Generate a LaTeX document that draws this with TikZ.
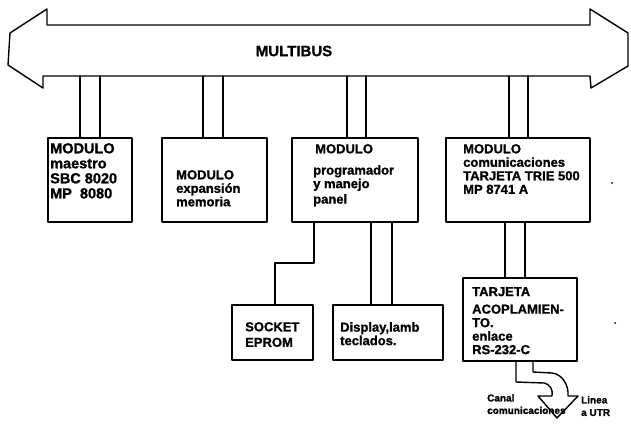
\documentclass[tikz,border=0pt]{standalone}
\usepackage{fontspec}
\setmainfont{Liberation Sans}
\newfontfamily\heavy{Liberation Sans}[UprightFont=* Bold, FakeBold=1.2]
\begin{document}
\begin{tikzpicture}[x=1pt,y=-1pt,
  ln/.style={line width=1.4pt,line join=round,line cap=round},
  box/.style={ln,draw},
  txt/.style={inner sep=0pt,anchor=north west,align=left,font=\heavy\fontsize{13}{13.5}\selectfont},
  big/.style={txt,font=\heavy\fontsize{14.5}{15}\selectfont},
  small/.style={inner sep=0pt,anchor=north west,align=left,font=\heavy\fontsize{10}{12.5}\selectfont}]
\useasboundingbox (0,0) rectangle (631,431);
% bus
\draw[ln] (47,9) -- (10,33) -- (8,65) -- (43,88) -- (43,76) -- (590,76) -- (591,88)
  -- (628,66) -- (628,33) -- (590,9) -- (590,25) -- (47,25) -- cycle;
\node[inner sep=0pt,font=\heavy\fontsize{15}{16}\selectfont] (bus) at (294,51) {MULTIBUS};
% boxes
\draw[box] (48,138) rectangle (132,222);
\draw[box] (162,138) rectangle (267,222);
\draw[box] (292,138) rectangle (418,222);
\draw[box] (446,138) rectangle (590,222);
\draw[box] (232,305) rectangle (313,360);
\draw[box] (333,305) rectangle (443,360);
\draw[box] (463,278) rectangle (577,361);
% bus connectors
\foreach \a/\b in {80/100,203/223,347/366,509/528}{
  \draw[ln] (\a,76) -- (\a,138);
  \draw[ln] (\b,76) -- (\b,138);
}
% box3 to socket
\draw[ln] (314,222) -- (314,263) -- (275,263) -- (275,305);
% box3 to display
\draw[ln] (371,222) -- (371,305);
\draw[ln] (392,222) -- (392,305);
% box4 to tarjeta
\draw[ln] (505,222) -- (505,278);
\draw[ln] (525,222) -- (525,278);
% bent arrow
\draw[ln] (516,361) -- (516,382) -- (544,383) .. controls (551,385) and (553,390) .. (552,396)
  -- (538,396) -- (557,418) -- (578,396) -- (568,396)
  .. controls (569,385) and (562,374) .. (552,373) -- (533,372) -- (533,361);
% texts
\node[big] (t1) at (50,143) {MODULO\\maestro\\SBC 8020\\MP\ \ 8080};
\node[txt] (t2) at (176,170) {MODULO\\expansión\\memoria};
\node[txt] (t3a) at (315,144) {MODULO};
\node[txt] (t3b) at (313,165) {programador\\y manejo\\[2pt]panel};
\node[txt] (t4) at (463,144) {MODULO\\comunicaciones\\TARJETA TRIE 500\\MP 8741 A};
\node[txt] (t5) at (245,322) {SOCKET\\[2pt]EPROM};
\node[txt] (t6) at (340,322) {Display,lamb\\teclados.};
\node[txt] (t7) at (472,287) {TARJETA\\[4pt]ACOPLAMIEN-\\TO.\\enlace\\RS-232-C};
\node[small] (t8) at (487,394) {Canal\\comunicaciones};
\node[small] (t9) at (581,396) {Linea\\a UTR};
\fill (612,183) circle (1pt);
\fill (615,323) circle (1pt);
\end{tikzpicture}
\end{document}
